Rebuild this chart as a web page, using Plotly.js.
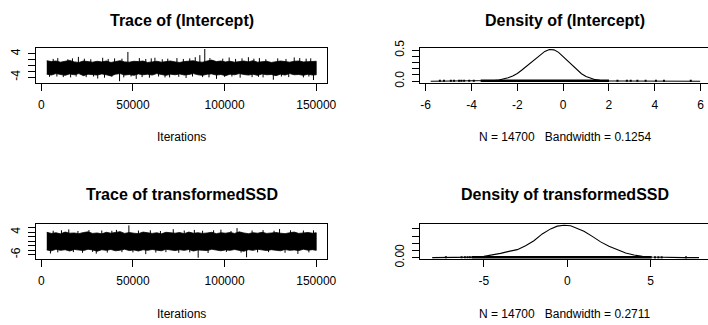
<!DOCTYPE html>
<html><head><meta charset="utf-8">
<script src="https://cdn.plot.ly/plotly-3.0.1.min.js"></script>
<style>html,body{margin:0;padding:0;overflow:hidden;background:#fff}#plot{width:767px;height:325px}</style>
</head><body><div id="plot"></div>
<script>
// ---------------- data ----------------
const titles = ["Trace of (Intercept)", "Density of (Intercept)", "Trace of transformedSSD", "Density of transformedSSD"];
const densNotes = ["N = 14700   Bandwidth = 0.1254", "N = 14700   Bandwidth = 0.2711"];
const iterLabel = "Iterations";

const iterGrid = [3000,5500,8000,10500,13000,15500,18000,20500,23000,25500,28000,30500,33000,35500,38000,40500,43000,45500,48000,50500,53000,55500,58000,60500,63000,65500,68000,70500,73000,75500,78000,80500,83000,85500,88000,90500,93000,95500,98000,100500,103000,105500,108000,110500,113000,115500,118000,120500,123000,125500,128000,130500,133000,135500,138000,140500,143000,145500,148000,150000];

// Intercept trace: upper / lower edge of the dense band
const intHi = [1.6,1.3,1.5,1.1,1.4,1.7,1.2,1.0,1.5,1.3,1.1,1.4,1.2,1.5,1.0,1.3,1.6,1.2,1.1,1.4,1.3,1.5,1.0,1.2,1.4,1.1,1.3,1.5,1.2,1.0,1.3,1.4,1.6,1.2,1.1,1.5,1.8,1.3,1.5,1.2,1.4,1.1,1.3,1.5,1.2,1.6,1.1,1.3,1.4,1.0,1.2,1.5,1.3,1.1,1.4,1.5,1.2,1.3,1.5,1.4];
const intLo = [-3.0,-3.3,-2.8,-3.1,-3.4,-2.9,-3.2,-2.8,-3.5,-3.0,-3.1,-3.3,-2.9,-3.2,-3.6,-3.0,-2.8,-3.3,-3.1,-3.4,-2.9,-3.2,-3.0,-3.3,-2.8,-3.1,-3.4,-3.0,-3.2,-2.9,-3.3,-3.1,-2.8,-3.2,-3.4,-3.0,-2.9,-3.3,-3.1,-3.5,-3.0,-3.2,-2.8,-3.1,-3.3,-3.0,-3.4,-2.9,-3.2,-3.1,-3.5,-3.0,-3.3,-2.8,-3.2,-3.1,-3.4,-3.0,-3.3,-3.2];
// single draws sticking out of the band (thin spikes)
const intSpikeIter = [4500,6500,8500,9000,12000,14500,16000,17000,19000,20250,23500,24500,27000,28500,30800,33500,34500,36500,38500,40000,42700,44000,45000,47250,49000,51800,53500,55000,57000,59000,60000,62000,64000,66000,67500,69000,70000,74000,75000,77500,79000,81000,82500,84000,86500,88000,89200,91500,92000,95600,99000,100000,102500,104000,106000,108500,109500,113000,115000,116000,118500,119000,121000,122500,126600,129000,131000,133500,135000,138000,141000,143000,144500,146000,147000,148500];
const intSpikeVal  = [-3.9,2.2,-3.8,2.5,-4.0,2.1,-4.1,2.4,-3.8,2.9,2.3,-4.0,2.1,-3.8,-4.5,2.6,-4.2,2.2,-3.9,2.4,-5.4,2.3,-4.1,4.6,-3.8,-4.6,2.5,-4.0,2.2,-4.2,2.4,2.6,-3.8,2.1,-4.1,2.3,-4.1,2.5,-3.9,2.2,-4.3,2.4,-3.8,2.8,3.5,-4.0,5.6,-4.1,2.5,-4.6,2.3,-3.9,2.7,-3.8,2.2,-4.2,2.4,2.8,-4.0,2.3,-3.9,2.5,-4.1,2.1,-4.9,2.4,-3.8,2.2,-4.0,2.7,2.5,-4.1,2.3,-3.8,2.4,-5.0];

// transformedSSD trace
const ssdHi = [4.0,3.5,3.8,3.3,4.1,3.6,3.7,3.4,3.9,4.2,3.5,3.7,3.3,4.0,3.6,3.8,4.3,3.5,3.9,3.6,3.4,4.1,3.7,3.5,3.8,3.3,4.0,3.7,3.6,3.9,3.4,4.1,3.6,3.8,3.5,3.7,4.0,3.4,3.8,3.6,3.9,3.5,4.2,3.7,3.4,3.8,3.6,4.0,3.5,3.7,3.9,3.6,3.4,3.8,4.1,3.5,3.7,3.9,3.6,3.8];
const ssdLo = [-3.9,-4.3,-3.6,-4.1,-3.8,-4.4,-3.7,-4.0,-4.2,-3.6,-3.9,-4.5,-3.8,-4.1,-3.7,-4.3,-4.0,-3.6,-4.2,-3.9,-4.4,-3.8,-4.1,-3.7,-4.0,-4.3,-3.6,-3.9,-4.2,-3.8,-4.1,-3.7,-4.4,-3.9,-4.0,-4.2,-3.6,-3.8,-4.3,-3.9,-4.1,-3.7,-4.0,-4.5,-3.8,-4.1,-3.6,-3.9,-4.2,-3.8,-4.0,-4.3,-3.7,-4.1,-3.9,-4.2,-3.6,-4.0,-3.8,-4.1];
const ssdSpikeIter = [5000,6500,9000,11000,15000,17500,20000,22500,26000,28000,30000,33000,36000,38500,41000,44000,47800,50000,53000,57000,59500,62500,65000,68000,72000,75000,78000,81000,83500,85600,88000,91000,94000,98000,101000,103500,106800,109000,112000,115000,118000,121000,124000,127000,130000,133000,136000,140000,143000,146000,148500];
const ssdSpikeVal  = [-5.5,4.7,-5.0,4.9,5.3,-4.9,4.6,-5.2,5.0,-4.8,-5.6,4.8,-5.1,4.7,5.1,-4.9,7.1,-5.0,4.8,-5.8,4.9,-5.1,4.6,-4.9,5.4,-5.2,4.8,-5.0,5.1,-7.4,4.7,-5.3,4.9,5.2,-4.8,4.6,5.9,-5.1,-7.2,4.8,-5.0,5.0,-4.9,4.7,5.5,-5.2,4.9,-5.7,4.8,-5.0,4.9];

// densities
const intDensX = [-5.78,-5.0,-4.5,-4.0,-3.6,-3.2,-3.0,-2.8,-2.6,-2.4,-2.2,-2.0,-1.8,-1.6,-1.4,-1.2,-1.0,-0.8,-0.6,-0.4,-0.2,0.0,0.2,0.4,0.6,0.8,1.0,1.2,1.4,1.6,1.8,2.0,2.4,3.0,4.0,5.0,5.98];
const intDensY = [0.0002,0.0005,0.0007,0.001,0.003,0.006,0.012,0.02,0.035,0.055,0.085,0.125,0.18,0.24,0.30,0.37,0.43,0.48,0.51,0.505,0.465,0.395,0.32,0.245,0.175,0.12,0.077,0.045,0.025,0.013,0.007,0.004,0.002,0.001,0.0005,0.0003,0.0002];
const intRugTail = [-5.38,-5.2,-4.9,-4.76,-4.54,-4.44,-4.32,-4.1,-3.9,2.37,2.78,2.95,3.24,3.6,4.05,4.4,5.57];
const intRugDense = [-3.6, 2.0];

const ssdDensX = [-8.1,-7,-6,-5.5,-5,-4.5,-4,-3.5,-3,-2.5,-2,-1.5,-1,-0.6,-0.2,0.2,0.6,1,1.5,2,2.5,3,3.5,4,4.5,5,5.5,6,7,7.9];
const ssdDensY = [0.0002,0.0005,0.002,0.004,0.009,0.017,0.03,0.044,0.056,0.083,0.118,0.165,0.2,0.219,0.225,0.222,0.205,0.183,0.148,0.11,0.079,0.053,0.032,0.019,0.009,0.005,0.003,0.0015,0.0005,0.0002];
const ssdRugTail = [-7.28,-6.34,-6.14,-5.98,-5.84,5.26,5.46,5.66,7.12];
const ssdRugDense = [-5.74, 5.06];

const traceTicks = [0,50000,100000,150000];
const intDensTicks = [-6,-4,-2,0,2,4,6];
const ssdDensTicks = [-5,0,5];

// ---------------- layout helpers ----------------
const W = 767, H = 325;
const px = x => x / W;
const py = y => 1 - y / H;
const font = "Liberation Sans, Arial, Helvetica, sans-serif";

function bandTrace(xa, ya, iters, hi, lo) {
  return {x: iters.concat(iters.slice().reverse()), y: hi.concat(lo.slice().reverse()),
    xaxis: xa, yaxis: ya, mode: 'lines', fill: 'toself', fillcolor: '#000',
    line: {color: '#000', width: 0.8}, hoverinfo: 'skip'};
}
function spikeTrace(xa, ya, iters, vals) {
  const x = [], y = [];
  iters.forEach((it, i) => { x.push(it, it, null); y.push(0, vals[i], null); });
  return {x, y, xaxis: xa, yaxis: ya, mode: 'lines', line: {color: '#000', width: 1}, hoverinfo: 'skip'};
}
function densTrace(xa, ya, xs, ys) {
  return {x: xs, y: ys, xaxis: xa, yaxis: ya, mode: 'lines', line: {color: '#000', width: 1.1}, hoverinfo: 'skip'};
}
function rugTraces(xa, ya, tail, dense, h) {
  return [
    {x: tail, y: tail.map(() => h), xaxis: xa, yaxis: ya, mode: 'markers',
     marker: {symbol: 'square', size: 2, color: '#000'}, hoverinfo: 'skip'},
    {x: dense, y: [h, h], xaxis: xa, yaxis: ya, mode: 'lines', line: {color: '#000', width: 2.5}, hoverinfo: 'skip'}
  ];
}

const data = [
  bandTrace('x', 'y', iterGrid, intHi, intLo),
  spikeTrace('x', 'y', intSpikeIter, intSpikeVal),
  densTrace('x2', 'y2', intDensX, intDensY),
  ...rugTraces('x2', 'y2', intRugTail, intRugDense, 0.006),
  bandTrace('x3', 'y3', iterGrid, ssdHi, ssdLo),
  spikeTrace('x3', 'y3', ssdSpikeIter, ssdSpikeVal),
  densTrace('x4', 'y4', ssdDensX, ssdDensY),
  ...rugTraces('x4', 'y4', ssdRugTail, ssdRugDense, 0.0025)
];

function xax(domPx, anchor, range, ticks) {
  return {domain: [px(domPx[0]), px(domPx[1])], anchor, range, tickmode: 'array', tickvals: ticks,
    ticktext: ticks.map(String), ticks: 'outside', ticklen: 7, tickwidth: 1, tickcolor: '#000',
    showline: true, mirror: true, linecolor: '#000', linewidth: 1, showgrid: false, zeroline: false,
    tickfont: {size: 12, color: '#000', family: font}, ticklabelstandoff: 4, fixedrange: true};
}
function yax(domPx, anchor, range, ticks, labels) {
  return {domain: [py(domPx[1]), py(domPx[0])], anchor, range, tickmode: 'array', tickvals: ticks,
    ticktext: labels, ticks: 'outside', ticklen: 7, tickwidth: 1, tickcolor: '#000', tickangle: -90,
    showline: true, mirror: true, linecolor: '#000', linewidth: 1, showgrid: false, zeroline: false,
    tickfont: {size: 12, color: '#000', family: font}, ticklabelstandoff: 3, fixedrange: true};
}

const leftX = [36, 327], rightX = [419.7, 710.7];
const topY = [47.7, 82.5], botY = [224, 259];

const layout = {
  width: W, height: H, margin: {l: 0, r: 0, t: 0, b: 0},
  paper_bgcolor: '#fff', plot_bgcolor: '#fff', showlegend: false,
  font: {family: font, color: '#000', size: 12},
  xaxis: xax(leftX, 'y', [-2880, 155880], traceTicks),
  yaxis: yax(topY, 'x', [-5.84, 6.04], [-4,-2,0,2,4], ['-4','','','','4']),
  xaxis2: xax(rightX, 'y2', [-6.26, 6.44], intDensTicks),
  yaxis2: yax(topY, 'x2', [-0.021, 0.54], [0,0.1,0.2,0.3,0.4,0.5], ['0.0','','','','','0.5']),
  xaxis3: xax(leftX, 'y3', [-2880, 155880], traceTicks),
  yaxis3: yax(botY, 'x3', [-7.98, 7.73], [-6,-4,-2,0,2,4,6], ['-6','','','','','4','']),
  xaxis4: xax(rightX, 'y4', [-8.85, 8.6], ssdDensTicks),
  yaxis4: yax(botY, 'x4', [-0.009, 0.234], [0,0.05,0.1,0.15,0.2], ['0.00','','','','']),
  annotations: []
};

const nb = s => s.replace(/ /g, '\u00a0');
const colC = [(leftX[0]+leftX[1])/2, (rightX[0]+rightX[1])/2];
const titleY = [20, 194], subY = [137, 313.6];
function ann(text, xp, yp, size, bold) {
  return {text: bold ? '<b>' + text + '</b>' : text, x: px(xp), y: py(yp), xref: 'paper', yref: 'paper',
    xanchor: 'center', yanchor: 'middle', showarrow: false, font: {size, color: '#000', family: font}};
}
layout.annotations.push(ann(titles[0], colC[0], titleY[0], 16, true));
layout.annotations.push(ann(titles[1], colC[1], titleY[0], 16, true));
layout.annotations.push(ann(titles[2], colC[0], titleY[1], 16, true));
layout.annotations.push(ann(titles[3], colC[1], titleY[1], 16, true));
layout.annotations.push(ann(iterLabel, colC[0], subY[0], 12, false));
layout.annotations.push(ann(iterLabel, colC[0], subY[1], 12, false));
layout.annotations.push(ann(nb(densNotes[0]), colC[1], subY[0], 12, false));
layout.annotations.push(ann(nb(densNotes[1]), colC[1], subY[1], 12, false));

Plotly.newPlot('plot', data, layout, {staticPlot: true, displayModeBar: false});
</script></body></html>
